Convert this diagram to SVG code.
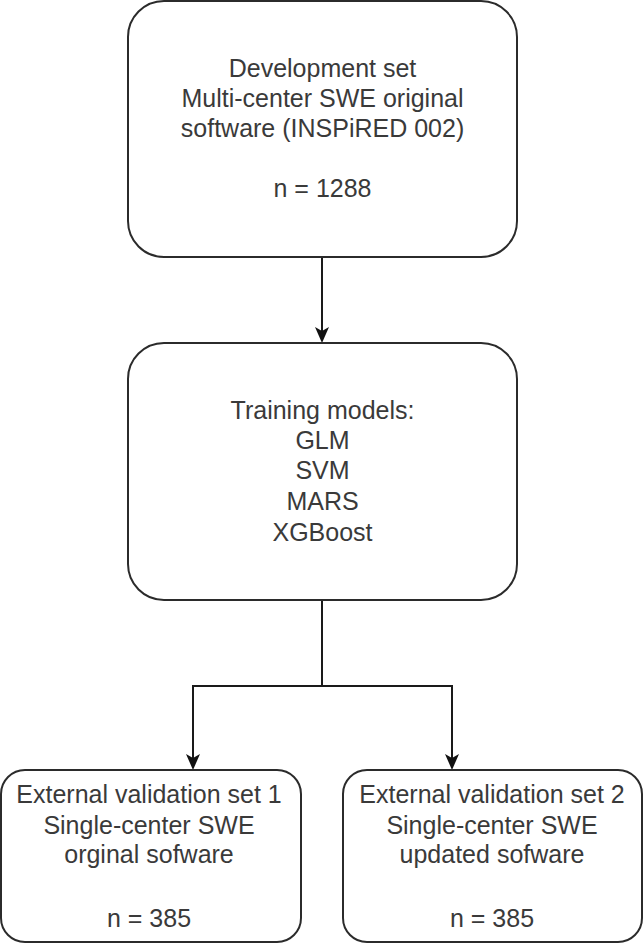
<svg xmlns="http://www.w3.org/2000/svg" width="644" height="944" viewBox="0 0 644 944">
<style>
.box{fill:#fff;stroke:#2b2b2b;stroke-width:2}
.edge{fill:none;stroke:#1a1a1a;stroke-width:2}
.head{fill:#111}
text{font-family:"Liberation Sans",Arial,sans-serif;font-size:25px;fill:#3a3a3a;text-anchor:middle}
</style>
<rect width="644" height="944" fill="#fff"/>
<g id="connectors">
<path class="edge" d="M322,257 V335"/>
<path class="edge" d="M322,600 V686 H193 V762"/>
<path class="edge" d="M322,686 H452 V762"/>
<path class="head" d="M315,327 L322,331 L329,327 L322,343 Z"/>
<path class="head" d="M186,754 L193,758 L200,754 L193,770 Z"/>
<path class="head" d="M445,754 L452,758 L459,754 L452,770 Z"/>
</g>
<g id="development">
<rect class="box" x="128" y="1" width="389" height="256" rx="36"/>
<text x="322.5" y="77">Development set</text>
<text x="322.5" y="107">Multi-center SWE original</text>
<text x="322.5" y="137">software (INSPiRED 002)</text>
<text x="322.5" y="197">n = 1288</text>
</g>
<g id="training">
<rect class="box" x="128" y="343" width="389" height="257" rx="36"/>
<text x="322.5" y="419">Training models:</text>
<text x="322.5" y="449">GLM</text>
<text x="322.5" y="479">SVM</text>
<text x="322.5" y="510">MARS</text>
<text x="322.5" y="541">XGBoost</text>
</g>
<g id="validation1">
<rect class="box" x="1" y="770" width="300" height="172" rx="24"/>
<text x="149" y="803">External validation set 1</text>
<text x="149" y="834">Single-center SWE</text>
<text x="149" y="863">orginal sofware</text>
<text x="149" y="927">n = 385</text>
</g>
<g id="validation2">
<rect class="box" x="343" y="770" width="299" height="172" rx="24"/>
<text x="492" y="803">External validation set 2</text>
<text x="492" y="834">Single-center SWE</text>
<text x="492" y="863">updated sofware</text>
<text x="492" y="927">n = 385</text>
</g>
</svg>
